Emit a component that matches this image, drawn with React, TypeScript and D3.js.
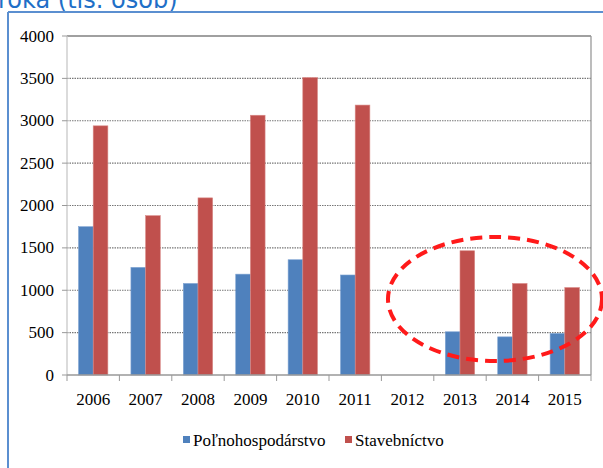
import React from "react";
import * as d3 from "d3";

const years = ["2006", "2007", "2008", "2009", "2010", "2011", "2012", "2013", "2014", "2015"];
const polnohospodarstvo = [1750, 1270, 1080, 1190, 1360, 1180, null, 510, 450, 490];
const stavebnictvo = [2940, 1880, 2090, 3065, 3510, 3185, null, 1466, 1080, 1032];
const yTicks = [0, 500, 1000, 1500, 2000, 2500, 3000, 3500, 4000];
const seriesNames = ["Poľnohospodárstvo", "Stavebníctvo"];
const colors = ["#4f81bd", "#c0504d"];

export default function App() {
  const W = 603, H = 468;
  const left = 67, right = 591, top = 36, bottom = 375;
  const x = d3.scaleBand<string>().domain(years).range([left, right]).paddingInner(0.44).paddingOuter(0.22);
  const x1 = d3.scaleBand<string>().domain(["0", "1"]).range([0, x.bandwidth()]);
  const y = d3.scaleLinear().domain([0, 4000]).range([bottom, top]);
  const step = (right - left) / years.length;
  const series = [polnohospodarstvo, stavebnictvo];
  const serif: React.CSSProperties = { fontFamily: "Liberation Serif, Times New Roman, DejaVu Serif, serif" };

  return (
    <svg width={W} height={H} style={{ position: "absolute", left: 0, top: 0 }}>
      <rect x={0} y={0} width={W} height={H} fill="#fff" />
      <text x={-2} y={8} style={{ fontFamily: "DejaVu Sans, Verdana, sans-serif" }} fontSize={24} fill="#1f6fc7">roka (tis. osôb)</text>
      <line x1={8} y1={12} x2={W} y2={12} stroke="#5b8fd0" strokeWidth={2} />
      <line x1={8} y1={12} x2={8} y2={H} stroke="#5b8fd0" strokeWidth={2} />
      {yTicks.filter(t => t > 0 && t < 4000).map(t => (
        <line key={"g" + t} x1={left} x2={right} y1={y(t)} y2={y(t)} stroke="#777" strokeWidth={1.2} strokeDasharray="1.5 1" />
      ))}
      <line x1={left} x2={right} y1={top} y2={top} stroke="#808080" strokeWidth={1.3} />
      <line x1={right} x2={right} y1={top} y2={bottom} stroke="#999" strokeWidth={1.3} />
      <line x1={left} x2={left} y1={top} y2={bottom} stroke="#c8c8c8" strokeWidth={1.3} />
      {yTicks.map(t => (
        <g key={"t" + t}>
          <line x1={left - 5} x2={left} y1={y(t)} y2={y(t)} stroke="#999" />
          <text x={54} y={y(t) + 5.5} textAnchor="end" style={serif} fontSize={17} fill="#000">{t}</text>
        </g>
      ))}
      {series.map((s, si) =>
        years.map((yr, i) => {
          const v = s[i];
          if (v == null) return null;
          return (
            <rect key={si + "-" + yr} x={(x(yr) as number) + (x1(String(si)) as number)} y={y(v)}
              width={x1.bandwidth()} height={bottom - y(v)} fill={colors[si]}
              stroke={si === 0 ? "#7fa3d3" : "#d98a88"} strokeWidth={0.6} />
          );
        })
      )}
      <line x1={left} x2={right} y1={bottom} y2={bottom} stroke="#999" strokeWidth={1.3} />
      {d3.range(years.length + 1).map(i => (
        <line key={"xt" + i} x1={left + i * step} x2={left + i * step} y1={bottom} y2={bottom + 6} stroke="#999" />
      ))}
      {years.map(yr => (
        <text key={"xl" + yr} x={(x(yr) as number) + x.bandwidth() / 2} y={405} textAnchor="middle" style={serif} fontSize={17} fill="#000">{yr}</text>
      ))}
      <rect x={183} y={436} width={7} height={7} fill={colors[0]} />
      <text x={193} y={446} style={serif} fontSize={17} fill="#000">{seriesNames[0]}</text>
      <rect x={345} y={436} width={7} height={7} fill={colors[1]} />
      <text x={355} y={446} style={serif} fontSize={17} fill="#000">{seriesNames[1]}</text>
      <ellipse cx={495} cy={299} rx={107} ry={62} fill="none" stroke="#ff1a1a" strokeWidth={4} strokeDasharray="12 7" />
    </svg>
  );
}
